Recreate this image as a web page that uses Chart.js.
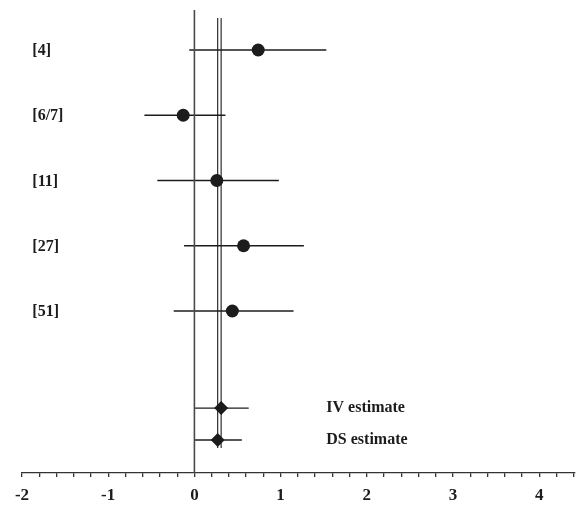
<!DOCTYPE html>
<html>
<head>
<meta charset="utf-8">
<script src="https://cdn.jsdelivr.net/npm/chart.js@4"></script>
<style>
  html, body { margin: 0; padding: 0; background: #fff; overflow: hidden; }
  #wrap { width: 582px; height: 506px; }
</style>
</head>
<body>
<div id="wrap"><canvas id="myChart"></canvas></div>
<script>
// study estimates
const studies = ['[4]', '[6/7]', '[11]', '[27]', '[51]']
const estimate = [0.74, -0.13, 0.26, 0.57, 0.44]
const lower = [-0.06, -0.58, -0.43, -0.12, -0.24]
const upper = [1.53, 0.36, 0.98, 1.27, 1.15]

// pooled estimates
const pooled = ['IV estimate', 'DS estimate']
const pooledEst = [0.31, 0.27]
const pooledLower = [0.0, 0.0]
const pooledUpper = [0.63, 0.55]

// layout: row position on the (reversed) y scale
const rowPos = [1, 2, 3, 4, 5]
const pooledPos = [6.487, 6.977]
const yMin = 0.387
const yMax = 7.483

const ink = '#1c1c1c'
const font = { family: '"Liberation Serif", "Times New Roman", serif', weight: 'bold', size: 17, lineHeight: 1.88 }

let datasets = []

// zero line
datasets.push({
  type: 'line', data: [{ x: 0, y: yMin }, { x: 0, y: yMax }],
  borderColor: '#4a4a4a', borderWidth: 1.6, pointRadius: 0, fill: false,
})
// pooled reference lines
pooledEst.forEach(function(v) {
  datasets.push({
    type: 'line', data: [{ x: v, y: 0.51 }, { x: v, y: 7.1 }],
    borderColor: ink, borderWidth: 1.1, pointRadius: 0, fill: false,
  })
})
// confidence intervals
studies.forEach(function(s, i) {
  datasets.push({
    type: 'line', data: [{ x: lower[i], y: rowPos[i] }, { x: upper[i], y: rowPos[i] }],
    borderColor: ink, borderWidth: 1.3, pointRadius: 0, fill: false,
  })
})
pooled.forEach(function(s, i) {
  datasets.push({
    type: 'line', data: [{ x: pooledLower[i], y: pooledPos[i] }, { x: pooledUpper[i], y: pooledPos[i] }],
    borderColor: ink, borderWidth: 1.3, pointRadius: 0, fill: false,
  })
})
// markers
datasets.push({
  type: 'scatter',
  data: estimate.map(function(v, i) { return { x: v, y: rowPos[i] } }),
  pointStyle: 'circle', pointRadius: 6.5, backgroundColor: ink, borderColor: ink, borderWidth: 0,
})
datasets.push({
  type: 'scatter',
  data: pooledEst.map(function(v, i) { return { x: v, y: pooledPos[i] } }),
  pointStyle: 'rectRot', pointRadius: 7, backgroundColor: ink, borderColor: ink, borderWidth: 0,
})

const labelPlugin = {
  id: 'rowLabels',
  afterDatasetsDraw(chart) {
    const ctx = chart.ctx
    const xs = chart.scales.x
    const ys = chart.scales.y
    ctx.save()
    ctx.fillStyle = ink
    ctx.font = 'bold 16px "Liberation Serif", serif'
    ctx.textBaseline = 'middle'
    ctx.textAlign = 'left'
    studies.forEach(function(s, i) {
      ctx.fillText(s, xs.getPixelForValue(-1.88), ys.getPixelForValue(rowPos[i]) + 1)
    })
    pooled.forEach(function(s, i) {
      ctx.fillText(s, xs.getPixelForValue(1.53), ys.getPixelForValue(pooledPos[i]))
    })
    ctx.restore()
  }
}

const config = {
  type: 'scatter',
  data: { datasets: datasets },
  options: {
    responsive: true,
    maintainAspectRatio: false,
    animation: false,
    layout: { padding: { left: 22, right: 4, top: 10, bottom: -9 } },
    scales: {
      x: {
        type: 'linear',
        min: -2,
        max: 4.415,
        border: { display: true, color: '#333', width: 1.3 },
        grid: { drawOnChartArea: false, drawTicks: true, tickLength: 4, tickColor: '#333', lineWidth: 1.3 },
        ticks: {
          stepSize: 0.2,
          includeBounds: false,
          autoSkip: false,
          maxRotation: 0,
          color: ink,
          font: font,
          padding: 3,
          callback: function(v) {
            const r = Math.round(v)
            return Math.abs(v - r) < 1e-6 ? String(r) : ''
          },
        },
      },
      y: {
        type: 'linear',
        display: false,
        reverse: true,
        min: yMin,
        max: yMax,
      },
    },
    plugins: {
      legend: { display: false },
      tooltip: { enabled: false },
    },
  },
  plugins: [labelPlugin],
}

const chart = new Chart(document.getElementById('myChart'), config)
</script>
</body>
</html>
